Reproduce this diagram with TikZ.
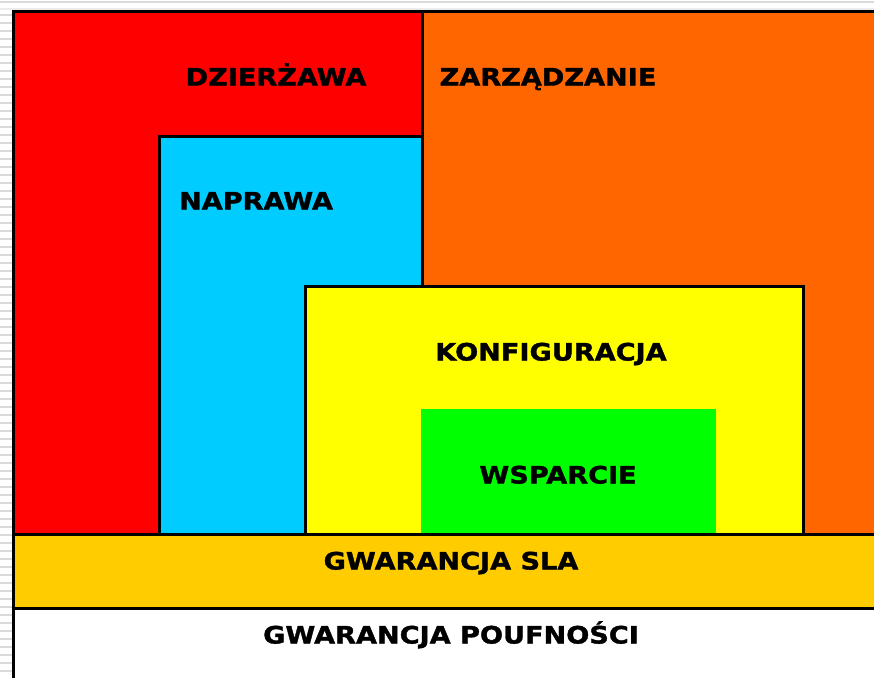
\documentclass[tikz,border=0pt]{standalone}
\usepackage{fontspec}
\setmainfont{DejaVu Sans}[BoldFeatures={FakeStretch=1.13,FakeBold=1.5}]
\definecolor{cred}{RGB}{255,0,0}
\definecolor{corange}{RGB}{255,102,0}
\definecolor{ccyan}{RGB}{0,204,255}
\definecolor{cyellow}{RGB}{255,255,0}
\definecolor{cgreen}{RGB}{0,255,0}
\definecolor{cgold}{RGB}{255,204,0}
\begin{document}
\begin{tikzpicture}[x=1pt,y=-1pt,
  region/.style={draw=black,line width=3pt},
  lbl/.style={anchor=base,inner sep=0pt,font=\fontsize{24}{28}\selectfont\bfseries},
  stripe/.style={draw=gray!30,line width=2pt}]
\useasboundingbox (0,0) rectangle (874,677);
\clip (0,0) rectangle (874,677);
% background stripes
\draw[stripe] (0,2) -- (874,2);
\draw[stripe,draw=gray!15] (0,9) -- (874,9);
\foreach \y in {15,23,...,677} \draw[stripe] (0,\y) -- (12,\y);
% regions
\filldraw[region,fill=cred] (13,12) rectangle (422,534);
\filldraw[region,fill=corange] (422,12) rectangle (884,534);
\filldraw[region,fill=ccyan] (159,136) rectangle (422,534);
\filldraw[region,fill=cyellow] (305,286) rectangle (803,534);
\fill[cgreen] (421,409) rectangle (716,532.5);
\filldraw[region,fill=cgold] (13,534) rectangle (884,608);
\filldraw[region,fill=white] (13,608) rectangle (884,690);
% labels
\node[lbl] (dz) at (276,85.5) {DZIERŻAWA};
\node[lbl] (za) at (548,85.5) {ZARZĄDZANIE};
\node[lbl] (na) at (256,209.5) {NAPRAWA};
\node[lbl] (ko) at (551,360.5) {KONFIGURACJA};
\node[lbl] (ws) at (558,483.5) {WSPARCIE};
\node[lbl] (sla) at (451,569.5) {GWARANCJA SLA};
\node[lbl] (pou) at (451,643.5) {GWARANCJA POUFNOŚCI};
\end{tikzpicture}
\end{document}
